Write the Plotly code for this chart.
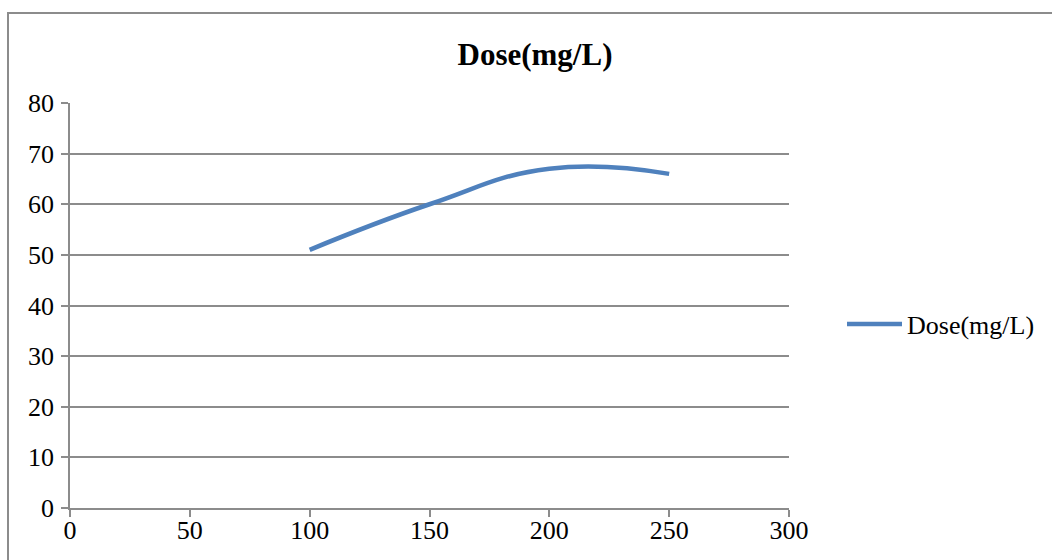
import plotly.graph_objects as go

x_vals = [100, 150, 200, 250]
dose = [51, 60, 67, 66]
series_name = "Dose(mg/L)"
title_text = "Dose(mg/L)"
x_ticks = [0, 50, 100, 150, 200, 250, 300]
y_ticks = [0, 10, 20, 30, 40, 50, 60, 70, 80]

W, H = 1052, 560
L, R, T, B = 70, 789, 103, 508

fig = go.Figure()
fig.add_trace(go.Scatter(
    x=x_vals, y=dose, mode="lines", name=series_name,
    line=dict(color="#4F81BD", width=4.5, shape="spline", smoothing=1.3),
))

font = dict(family="Liberation Serif, Times New Roman, serif", color="black")
fig.update_layout(
    width=W, height=H,
    margin=dict(l=L, r=W - R, t=T, b=H - B, pad=0, autoexpand=False),
    paper_bgcolor="white", plot_bgcolor="white",
    title=dict(text="<b>" + title_text + "</b>", x=535 / W, xanchor="center",
               y=1 - 54 / H, yanchor="middle", font=dict(size=31, **font)),
    showlegend=True,
    legend=dict(x=(842 - L) / (R - L), y=(B - 324) / (B - T), xanchor="left", yanchor="middle",
                font=dict(size=26, **font), bgcolor="rgba(0,0,0,0)",
                itemwidth=55, tracegroupgap=0),
    xaxis=dict(range=[0, 300], tickvals=x_ticks, showgrid=False, zeroline=False, automargin=False,
               showline=True, linecolor="#8c8c8c", linewidth=1.5,
               ticks="outside", ticklen=7, tickwidth=1.5, tickcolor="#8c8c8c",
               ticklabelstandoff=-9,
               tickfont=dict(size=26, **font)),
    yaxis=dict(range=[0, 80], tickvals=y_ticks, showgrid=True, gridcolor="#8c8c8c", gridwidth=1.5,
               zeroline=False, showline=True, linecolor="#8c8c8c", linewidth=1.5, automargin=False,
               ticks="outside", ticklen=7, tickwidth=1.5, tickcolor="#8c8c8c",
               ticklabelstandoff=2,
               tickfont=dict(size=26, **font)),
)
fig.add_shape(type="rect", xref="paper", yref="paper",
              x0=(8 - L) / (R - L), x1=(1060 - L) / (R - L),
              y0=(B - 570) / (B - T), y1=(B - 13) / (B - T),
              line=dict(color="#8c8c8c", width=2), fillcolor="rgba(0,0,0,0)", layer="below")

fig.write_html("out.html")
